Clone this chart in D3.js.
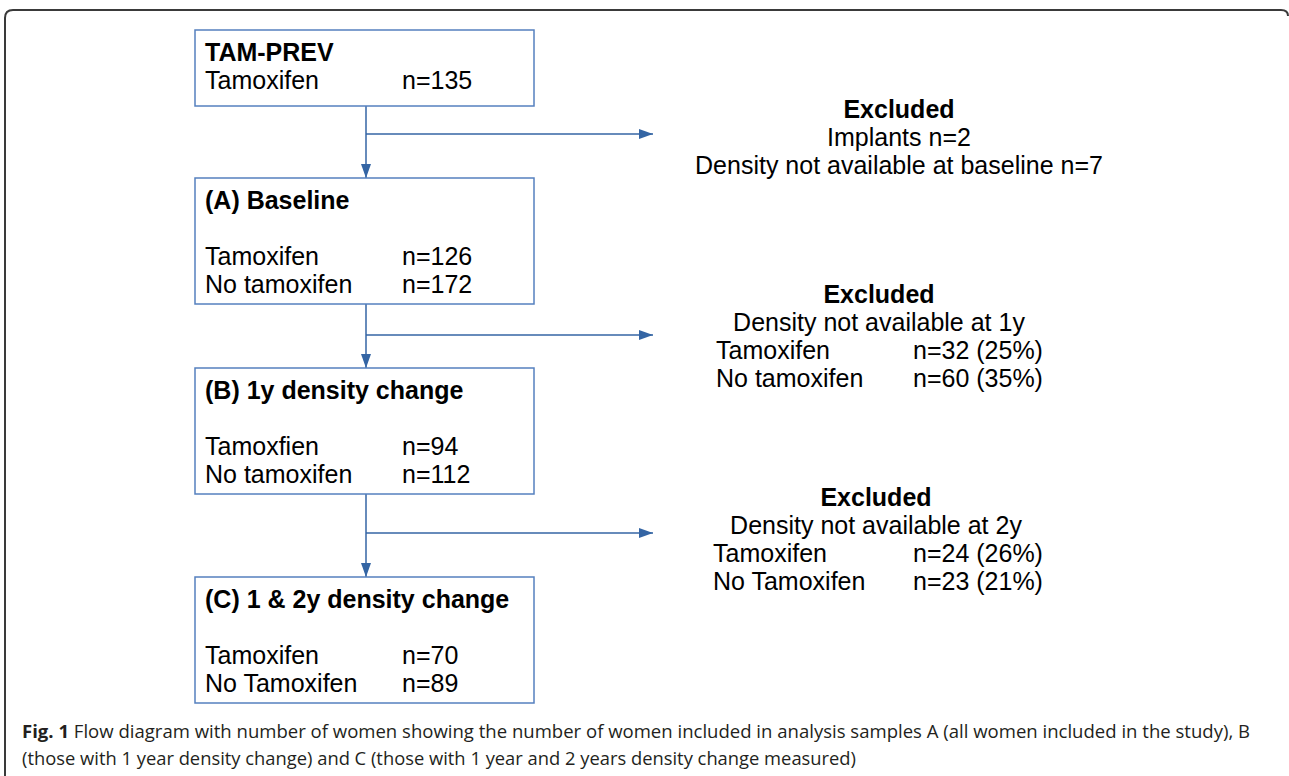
<!DOCTYPE html>
<html>
<head>
<meta charset="utf-8">
<script src="https://cdn.jsdelivr.net/npm/d3@7"></script>
<style>
  body { margin: 0; background: #fff; }
  svg { display: block; }
</style>
</head>
<body>
<svg id="chart"></svg>
<script>
// stage data
const stageTitles = ["TAM-PREV", "(A) Baseline", "(B) 1y density change", "(C) 1 & 2y density change"];
const stageLabels = [
  ["Tamoxifen"],
  ["Tamoxifen", "No tamoxifen"],
  ["Tamoxfien", "No tamoxifen"],
  ["Tamoxifen", "No Tamoxifen"]
];
const stageCounts = [
  ["n=135"],
  ["n=126", "n=172"],
  ["n=94", "n=112"],
  ["n=70", "n=89"]
];

// exclusion data
const exclHeaders = [
  ["Implants n=2", "Density not available at baseline n=7"],
  ["Density not available at 1y"],
  ["Density not available at 2y"]
];
const exclLabels = [[], ["Tamoxifen", "No tamoxifen"], ["Tamoxifen", "No Tamoxifen"]];
const exclCounts = [[], ["n=32 (25%)", "n=60 (35%)"], ["n=24 (26%)", "n=23 (21%)"]];

const captionLines = [
  {bold: "Fig. 1", text: " Flow diagram with number of women showing the number of women included in analysis samples A (all women included in the study), B"},
  {bold: "", text: "(those with 1 year density change) and C (those with 1 year and 2 years density change measured)"}
];

const W = 1289, H = 776;
const svg = d3.select("#chart").attr("width", W).attr("height", H);

// layout
const boxX = 195, boxW = 339, colX = 402;
const boxTop = [30, 178, 368, 577];
const boxH = [76, 126, 126, 126];
const midX = 366;
const branchY = [134, 335, 533];
const arrowEnd = 653;
const exclCenter = [899, 879, 876];
const exclTop = [118, 303, 506];
const exclLeft = [716, 713];
const exclColX = 913;
const lineH = 28;
const fs = 25;

const boxColor = "#5580bf", arrowColor = "#3465a4";
const font = "'Liberation Sans', Arial, sans-serif";

// outer frame
svg.append("path")
  .attr("d", `M5,${H} V18 Q5,10 13,10 H1281 Q1288,10 1288,16`)
  .attr("fill", "none").attr("stroke", "#3a3a3a").attr("stroke-width", 2);

const defs = svg.append("defs");
defs.append("marker").attr("id", "arr")
  .attr("viewBox", "0 0 14 10").attr("refX", 14).attr("refY", 5)
  .attr("markerWidth", 14).attr("markerHeight", 10)
  .attr("markerUnits", "userSpaceOnUse").attr("orient", "auto")
  .append("path").attr("d", "M0,0 L14,5 L0,10 Z").attr("fill", arrowColor);

// connectors
const links = svg.append("g").attr("stroke", arrowColor).attr("stroke-width", 1.5).attr("fill", "none");
for (let i = 0; i < 3; i++) {
  links.append("line")
    .attr("x1", midX).attr("y1", boxTop[i] + boxH[i])
    .attr("x2", midX).attr("y2", boxTop[i + 1])
    .attr("marker-end", "url(#arr)");
  links.append("line")
    .attr("x1", midX).attr("y1", branchY[i])
    .attr("x2", arrowEnd).attr("y2", branchY[i])
    .attr("marker-end", "url(#arr)");
}

// stage boxes
const boxes = svg.selectAll("g.stage").data(stageTitles).join("g")
  .attr("class", "stage")
  .attr("transform", (d, i) => `translate(0,${boxTop[i]})`);

boxes.append("rect")
  .attr("x", boxX).attr("y", 0).attr("width", boxW)
  .attr("height", (d, i) => boxH[i])
  .attr("fill", "#fff").attr("stroke", boxColor).attr("stroke-width", 1.5);

boxes.append("text")
  .attr("x", boxX + 10).attr("y", 31)
  .attr("font-family", font).attr("font-size", fs).attr("font-weight", "bold")
  .text(d => d);

boxes.each(function(d, i) {
  const g = d3.select(this);
  const first = i === 0 ? 59 : 87;
  stageLabels[i].forEach((lab, j) => {
    g.append("text").attr("x", boxX + 10).attr("y", first + j * lineH)
      .attr("font-family", font).attr("font-size", fs).text(lab);
    g.append("text").attr("x", colX).attr("y", first + j * lineH)
      .attr("font-family", font).attr("font-size", fs).text(stageCounts[i][j]);
  });
});

// exclusions
exclHeaders.forEach((hdr, i) => {
  const g = svg.append("g").attr("font-family", font).attr("font-size", fs);
  g.append("text").attr("x", exclCenter[i]).attr("y", exclTop[i])
    .attr("text-anchor", "middle").attr("font-weight", "bold").text("Excluded");
  hdr.forEach((t, j) => {
    g.append("text").attr("x", exclCenter[i]).attr("y", exclTop[i] + (j + 1) * lineH)
      .attr("text-anchor", "middle").text(t);
  });
  exclLabels[i].forEach((lab, j) => {
    const y = exclTop[i] + (hdr.length + 1 + j) * lineH;
    g.append("text").attr("x", exclLeft[i - 1]).attr("y", y).text(lab);
    g.append("text").attr("x", exclColX).attr("y", y).text(exclCounts[i][j]);
  });
});

// caption
const capRight = [1250, 856];
captionLines.forEach((c, i) => {
  const t = svg.append("text")
    .attr("x", 22).attr("y", 738 + i * 27)
    .attr("font-family", "'Open Sans', sans-serif").attr("font-size", 18.5)
    .attr("fill", "#231f20");
  if (c.bold) t.append("tspan").attr("font-weight", "bold").text(c.bold);
  t.append("tspan").text(c.text);
  t.attr("textLength", capRight[i] - 22).attr("lengthAdjust", "spacingAndGlyphs");
});
</script>
</body>
</html>
